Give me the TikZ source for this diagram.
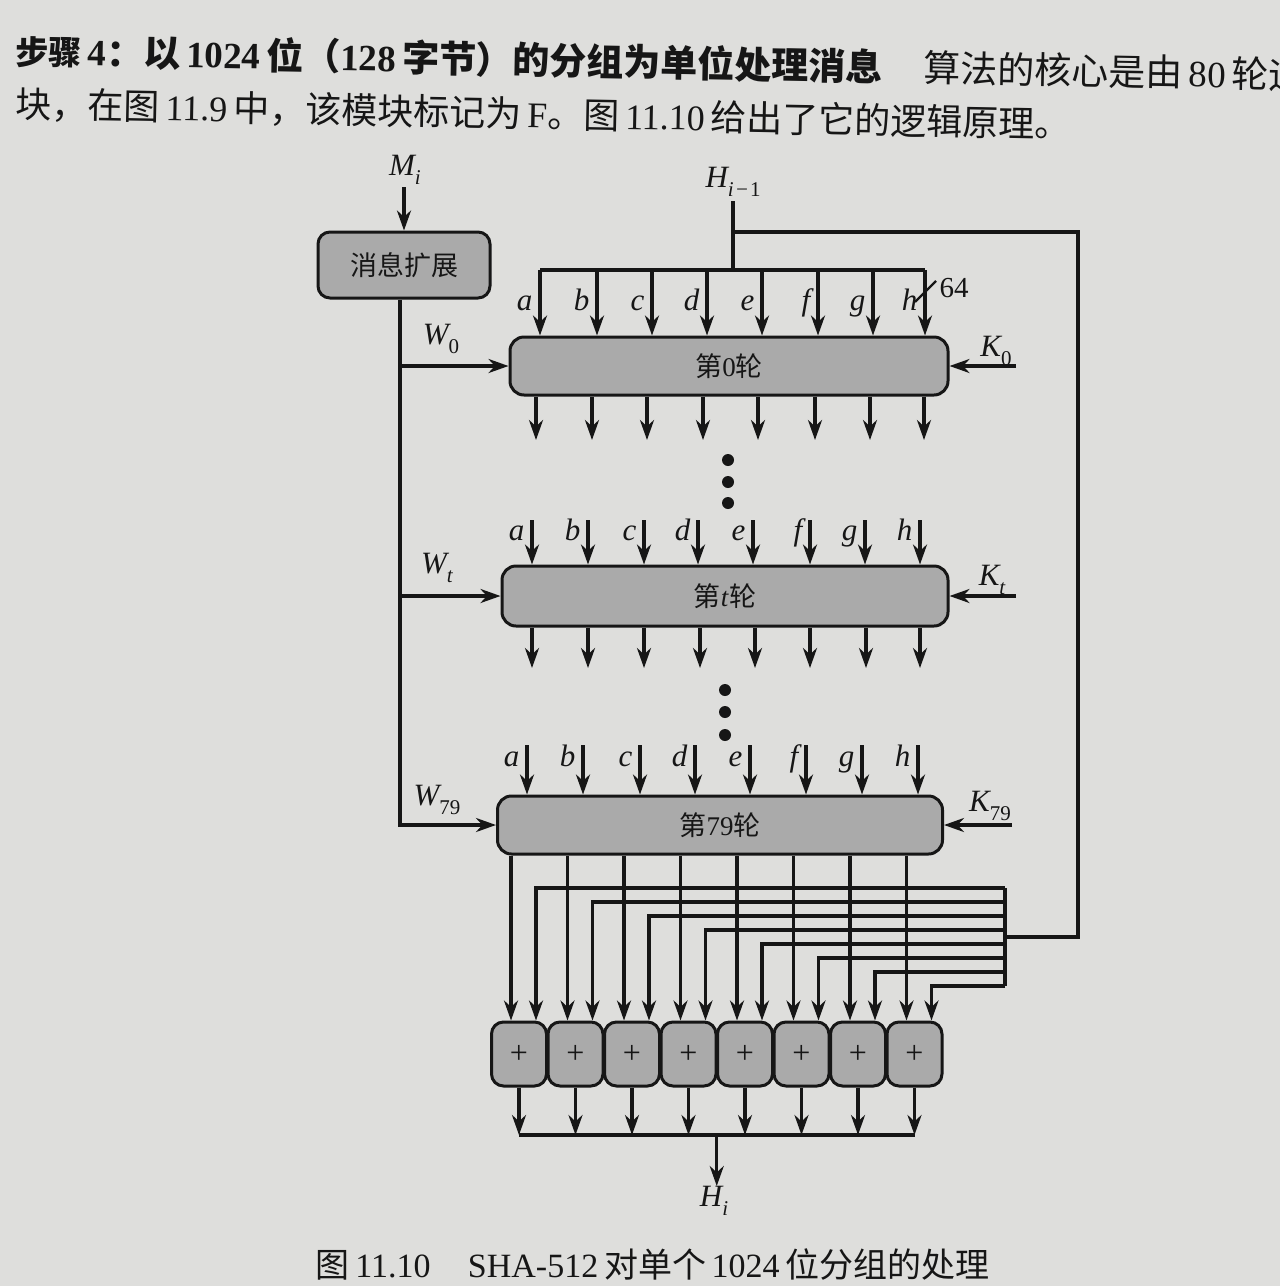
\documentclass[tikz,border=0pt]{standalone}
\usepackage{fontspec}
\setmainfont{Liberation Serif}
\newfontfamily\cjk{Noto Sans CJK SC}
\usetikzlibrary{arrows.meta}
\definecolor{paper}{RGB}{222,222,220}
\definecolor{boxgray}{RGB}{170,170,170}
\definecolor{ink}{RGB}{22,22,22}
\newcommand\lsub[1]{\raisebox{-0.28em}{\fontsize{21}{21}\selectfont #1}}
\begin{document}
\begin{tikzpicture}[x=1pt,y=-1pt,
  line width=3.4pt, draw=ink,
  arr/.style={-{Stealth[length=20pt,width=14pt]}},
  rbox/.style={draw=ink, fill=boxgray, rounded corners=14pt, line width=3pt, inner sep=0pt,
               font=\fontsize{27}{30}\selectfont, text=ink},
  addbox/.style={rbox, rounded corners=12pt, minimum width=55pt, minimum height=64pt,
               font=\fontsize{32}{34}\selectfont},
  lab/.style={font=\fontsize{31}{34}\selectfont\itshape, inner sep=0pt, text=ink},
  hdr/.style={font=\fontsize{37}{42}\selectfont, inner sep=0pt, text=ink}
]
\useasboundingbox[fill=paper] (0,0) rectangle (1280,1286);

% ---------- header text ----------
\node[hdr, anchor=west, rotate=-1.1] (hd1) at (14,50)
  {{\fontsize{33}{38}\selectfont\cjk\bfseries 步骤}\,\textbf{4}{\cjk\bfseries ：以}\,\textbf{1024}\,{\cjk\bfseries 位（}\textbf{128}\,{\cjk\bfseries 字节）的分组为单位处理消息}\hspace{1.1em}{\cjk 算法的核心是由}\,80\,{\cjk 轮运}};
\node[hdr, font=\fontsize{36}{42}\selectfont, anchor=west, rotate=-1.1] (hd2) at (14,104)
  {{\cjk 块，在图}\,11.9\,{\cjk 中，该模块标记为}\,F{\cjk 。图}\,11.10\,{\cjk 给出了它的逻辑原理。}};

% ---------- message expansion ----------
\node[lab] (Mi) at (405,170) {M\lsub{i}};
\node[rbox, rounded corners=12pt, minimum width=172pt, minimum height=66pt] (exp) at (404,265) {\cjk 消息扩展};
\coordinate (mtop) at (404,187);
\draw[arr] (mtop) -- (exp.north);

% ---------- rounds ----------
\node[rbox, minimum width=438pt, minimum height=58pt] (r0) at (729,366) {{\cjk 第}0{\cjk 轮}};
\node[rbox, minimum width=446pt, minimum height=60pt] (rt) at (725,596) {{\cjk 第}\textit{t}{\cjk 轮}};
\node[rbox, minimum width=445pt, minimum height=58pt] (r79) at (720,825) {{\cjk 第}79{\cjk 轮}};

% ---------- W line ----------
\coordinate (wx) at (400,0);
\draw[arr] (exp.south -| wx) -- (r79.west -| wx) -- (r79.west);
\draw[arr] (r0.west -| wx) -- (r0.west);
\draw[arr] (rt.west -| wx) -- (rt.west);
\node[lab] (W0) at (441,339) {W\lsub{\upshape 0}};
\node[lab] (Wt) at (437,568) {W\lsub{t}};
\node[lab] (W79) at (437,800) {W\lsub{\upshape 79}};

% ---------- K inputs ----------
\coordinate (k0) at (1016,366);
\coordinate (kt) at (1016,596);
\coordinate (k79) at (1012,825);
\draw[arr] (k0) -- (r0.east);
\draw[arr] (kt) -- (rt.east);
\draw[arr] (k79) -- (r79.east);
\node[lab] (K0) at (996,351) {K\lsub{\upshape 0}};
\node[lab] (Kt) at (992,580) {K\lsub{t}};
\node[lab] (K79) at (990,806) {K\lsub{\upshape 79}};

% ---------- H_{i-1} and top bus ----------
\node[lab] (Hin) at (733,182) {H\lsub{i\kern0.05em−\kern0.05em\upshape 1}};
\coordinate (htop) at (733,201);
\coordinate (hjoin) at (733,232);
\coordinate (hbus) at (733,270);
\coordinate (busL) at (540,270);
\coordinate (busR) at (925,270);
\draw (htop) -- (hbus);
\draw (busL) -- (busR);
\foreach \x/\l in {540/a,597/b,652/c,707/d,762/e,818/f,873/g,925/h}{
  \coordinate (i0\l) at (\x,270);
  \draw[arr] (i0\l) -- (r0.north -| i0\l);
  \node[lab, anchor=base east] (l0\l) at (\x-6,310) {\l};
}
% 64-bit slash
\coordinate (slA) at (915,302);
\coordinate (slB) at (936,281);
\draw[line width=2.4pt] (slA) -- (slB);
\node[lab, font=\fontsize{29}{30}\selectfont] (n64) at (954,288) {64};

% outputs of round 0
\foreach \x in {536,592,647,703,758,815,870,924}{
  \coordinate (o0\x) at (\x,440);
  \draw[arr] (r0.south -| o0\x) -- (o0\x);
}
\foreach \y in {460,482,503}{ \fill[ink] (728,\y) circle (6pt); }

% round t inputs / outputs
\foreach \x/\l in {532/a,588/b,644/c,698/d,753/e,810/f,865/g,920/h}{
  \coordinate (it\l) at (\x,520);
  \draw[arr] (it\l) -- (rt.north -| it\l);
  \node[lab, anchor=base east] (lt\l) at (\x-6,540) {\l};
}
\foreach \x in {532,588,644,700,755,810,866,920}{
  \coordinate (ot\x) at (\x,668);
  \draw[arr] (rt.south -| ot\x) -- (ot\x);
}
\foreach \y in {690,712,735}{ \fill[ink] (725,\y) circle (6pt); }

% round 79 inputs
\foreach \x/\l in {527/a,583/b,640/c,695/d,750/e,806/f,862/g,918/h}{
  \coordinate (i79\l) at (\x,745);
  \draw[arr] (i79\l) -- (r79.north -| i79\l);
  \node[lab, anchor=base east] (l79\l) at (\x-6,766) {\l};
}

% ---------- adders ----------
\foreach \c [count=\i] in {519,575.5,632,688.5,745,801.5,858,914.5}{
  \node[addbox] (s\i) at (\c,1054) {+};
}
% feedback loop
\coordinate (lpA) at (1078,232);
\coordinate (lpB) at (1078,937);
\coordinate (colM) at (1005,937);
\coordinate (colT) at (1005,888);
\coordinate (colB) at (1005,986);
\draw (hjoin) -- (lpA) -- (lpB) -- (colM);
\draw (colT) -- (colB);
\foreach \i in {1,...,8}{
  \pgfmathsetmacro{\fy}{888+14*(\i-1)}
  \coordinate (mx\i) at ([xshift=-8pt]s\i.north);
  \coordinate (fx\i) at ([xshift=17pt]s\i.north);
  \coordinate (fr\i) at (1005,\fy);
  \draw[arr] (r79.south -| mx\i) -- (mx\i);
  \draw[arr] (fr\i) -- (fr\i -| fx\i) -- (fx\i);
}
% output bus
\coordinate (obL) at (519,1135);
\coordinate (obR) at (914.5,1135);
\coordinate (obM) at (716.75,1135);
\coordinate (hout) at (716.75,1186);
\foreach \i in {1,...,8}{ \draw[arr] (s\i.south) -- (s\i.south |- obL); }
\draw (obL) -- (obR);
\draw[arr] (obM) -- (hout);
\node[lab] (Hi) at (714,1201) {H\lsub{i}};

% ---------- caption ----------
\node[hdr, font=\fontsize{34}{38}\selectfont, anchor=west] (cap) at (314,1264)
  {{\cjk 图}\,11.10\hspace{1.1em}SHA-512\,{\cjk 对单个}\,1024\,{\cjk 位分组的处理}};
\end{tikzpicture}
\end{document}
